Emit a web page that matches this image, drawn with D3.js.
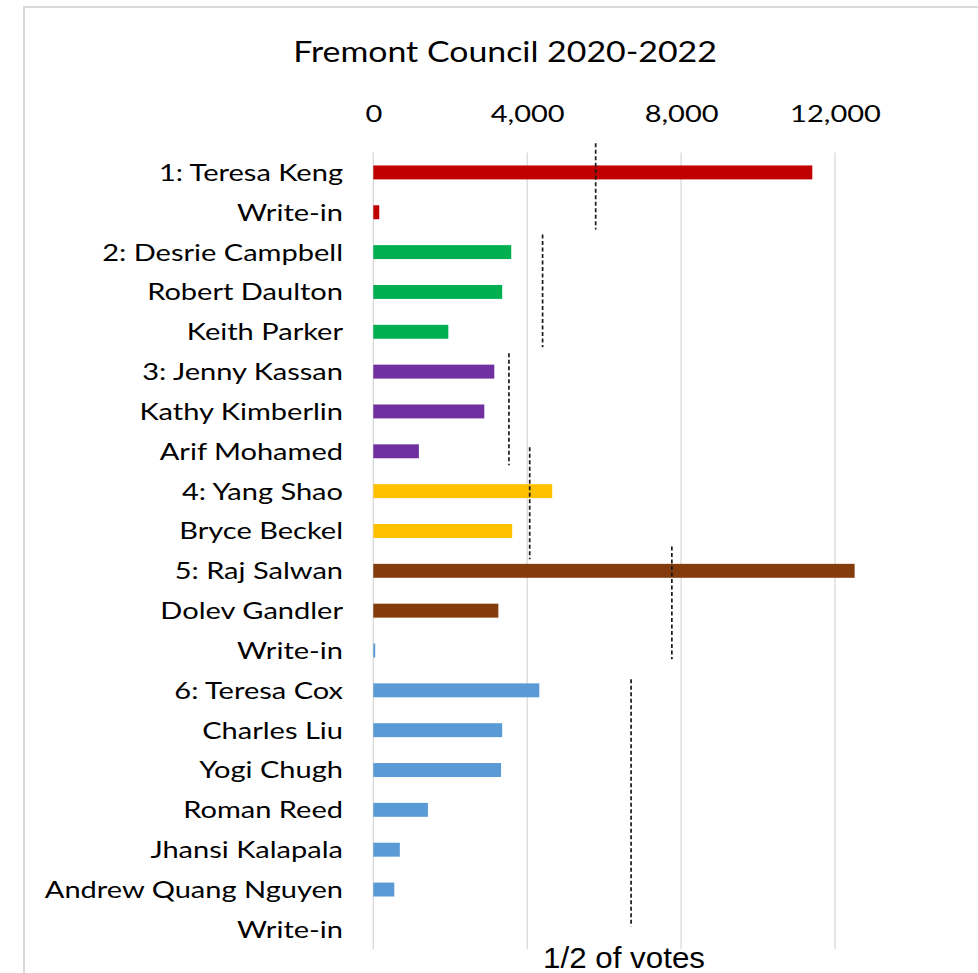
<!DOCTYPE html>
<html>
<head>
<meta charset="utf-8">
<script src="https://cdn.jsdelivr.net/npm/d3@7"></script>
<style>
  body { margin: 0; background: #fff; }
  svg { display: block; }
  .lbl { font-family: Lato, "Open Sans", sans-serif; fill: #000; }
</style>
</head>
<body>
<svg id="chart" width="978" height="973"></svg>
<script>
// candidates, top to bottom
const names = ['1: Teresa Keng', 'Write-in', '2: Desrie Campbell', 'Robert Daulton', 'Keith Parker',
  '3: Jenny Kassan', 'Kathy Kimberlin', 'Arif Mohamed', '4: Yang Shao', 'Bryce Beckel',
  '5: Raj Salwan', 'Dolev Gandler', 'Write-in', '6: Teresa Cox', 'Charles Liu', 'Yogi Chugh',
  'Roman Reed', 'Jhansi Kalapala', 'Andrew Quang Nguyen', 'Write-in'];
const votes = [11410, 155, 3585, 3350, 1950, 3145, 2885, 1185, 4650, 3610,
  12510, 3250, 50, 4315, 3350, 3320, 1420, 690, 545, 0];
// colour group of each row
const group = [1, 1, 2, 2, 2, 3, 3, 3, 4, 4, 5, 5, 6, 6, 6, 6, 6, 6, 6, 6];

// half-of-votes markers per district: x value and row span (in row units)
const halfVotes = [5780, 4400, 3525, 4065, 7760, 6700];
const halfFrom = [-0.73, 1.56, 4.54, 6.9, 9.39, 12.72];
const halfTo = [1.43, 4.39, 7.35, 9.71, 12.22, 18.93];

const tickVals = [0, 4000, 8000, 12000];
const colors = {1: '#C00000', 2: '#00B050', 3: '#7030A0', 4: '#FFC000', 5: '#843C0C', 6: '#5B9BD5'};

// the reference text is a bit wider than Lato, stretch horizontally
const stretch = 1.21;

const svg = d3.select('#chart');

// outer frame
svg.append('rect')
  .attr('x', 24).attr('y', 7).attr('width', 1000).attr('height', 1000)
  .attr('fill', 'none').attr('stroke', '#d9d9d9').attr('stroke-width', 2);

const x = d3.scaleLinear().domain([0, 12000]).range([373.3, 835]);
const y = d3.scaleBand().domain(d3.range(names.length))
  .range([152.5, 949.3]).paddingInner(0.65).paddingOuter(0.325);
const rowPos = d3.scaleLinear().domain([0, names.length - 1])
  .range([y(0) + y.bandwidth() / 2, y(names.length - 1) + y.bandwidth() / 2]);

// gridlines
svg.append('g').selectAll('line')
  .data(tickVals).enter().append('line')
  .attr('x1', d => x(d)).attr('x2', d => x(d))
  .attr('y1', 152.5).attr('y2', 949)
  .attr('stroke', '#d9d9d9').attr('stroke-width', 1.3);

// top axis labels
const axis = svg.append('g')
  .attr('transform', 'translate(0,122)')
  .call(d3.axisTop(x).tickValues(tickVals).tickSize(0).tickPadding(0).tickFormat(d3.format(',')));
axis.select('.domain').remove();
axis.selectAll('text').attr('class', 'lbl').style('font-size', '24px')
  .attr('font-family', null).attr('fill', '#000')
  .attr('transform', `scale(${stretch},1)`);

// bars
svg.append('g').selectAll('rect')
  .data(votes).enter().append('rect')
  .attr('x', x(0))
  .attr('y', (d, i) => y(i))
  .attr('width', d => x(d) - x(0))
  .attr('height', y.bandwidth())
  .attr('fill', (d, i) => colors[group[i]]);

// category labels
svg.append('g').selectAll('text')
  .data(names).enter().append('text')
  .attr('class', 'lbl')
  .attr('transform', (d, i) => `translate(343,${y(i) + y.bandwidth() / 2}) scale(${stretch},1)`)
  .attr('dy', '0.35em')
  .attr('text-anchor', 'end')
  .style('font-size', '24px')
  .text(d => d);

// half-of-votes dashed lines
svg.append('g').selectAll('line')
  .data(halfVotes).enter().append('line')
  .attr('x1', d => x(d)).attr('x2', d => x(d))
  .attr('y1', (d, i) => rowPos(halfFrom[i]))
  .attr('y2', (d, i) => rowPos(halfTo[i]))
  .attr('stroke', '#1a1a1a').attr('stroke-width', 1.7)
  .attr('stroke-dasharray', '4,2.5');

// title
svg.append('text')
  .attr('class', 'lbl')
  .attr('transform', `translate(505,62) scale(${stretch},1)`)
  .attr('text-anchor', 'middle')
  .style('font-size', '28px')
  .text('Fremont Council 2020-2022');

svg.append('text')
  .attr('x', 543).attr('y', 968)
  .attr('font-family', '"Liberation Sans", Arial, sans-serif')
  .attr('font-size', 29)
  .attr('textLength', 162).attr('lengthAdjust', 'spacingAndGlyphs')
  .text('1/2 of votes');
</script>
</body>
</html>
